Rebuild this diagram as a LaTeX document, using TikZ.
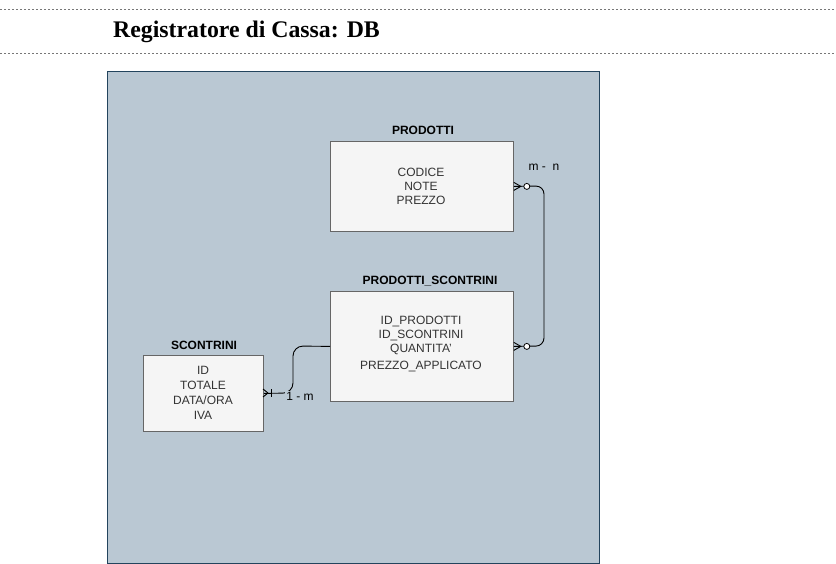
\documentclass[tikz,border=0pt]{standalone}
\usepackage{fontspec}
\setmainfont{Liberation Serif}
\setsansfont{Liberation Sans}
\begin{document}
\begin{tikzpicture}[x=1pt,y=-1pt,
  box/.style={draw=boxline, fill=boxfill, line width=0.8pt, inner sep=0pt, anchor=north west},
  boxtext/.style={font=\sffamily\fontsize{12}{14}\selectfont, text=boxtxt, align=center, inner sep=0pt},
  boxtitle/.style={font=\sffamily\bfseries\fontsize{12}{14}\selectfont, inner sep=0pt},
  rel/.style={font=\sffamily\fontsize{12}{14}\selectfont, inner sep=0pt},
  conn/.style={draw=black, line width=0.9pt},
  sep/.style={draw=sepgray, line width=1pt, dash pattern=on 2pt off 2pt}]
\definecolor{bgblue}{HTML}{BAC8D3}
\definecolor{bgline}{HTML}{23445D}
\definecolor{boxfill}{HTML}{F5F5F5}
\definecolor{boxline}{HTML}{666666}
\definecolor{boxtxt}{HTML}{333333}
\definecolor{sepgray}{HTML}{777777}
\useasboundingbox (0,0) rectangle (836,564);
% header
\coordinate (t1) at (0,10);
\coordinate (t2) at (836,10);
\coordinate (b1) at (0,54);
\coordinate (b2) at (836,54);
\draw[sep] (t1) -- (t2);
\draw[sep] (b1) -- (b2);
\node[font=\rmfamily\bfseries\fontsize{23.8}{26}\selectfont, anchor=west, inner sep=0pt] (title) at (113,32) {Registratore di Cassa: DB};
% background
\node[draw=bgline, fill=bgblue, line width=0.8pt, minimum width=492pt, minimum height=492pt, anchor=north west, inner sep=0pt] (bg) at (107,71) {};
% boxes
\node[box, minimum width=183pt, minimum height=90pt] (P) at (330,141) {};
\node[boxtitle] (Pt) at (423,130) {PRODOTTI};
\node[boxtext] (Ptx) at (421,186) {CODICE\\NOTE\\PREZZO};

\node[box, minimum width=183pt, minimum height=110pt] (PS) at (330,291) {};
\node[boxtitle] (PSt) at (430,281) {PRODOTTI\_SCONTRINI};
\node[boxtext] (PStx) at (421,335) {ID\_PRODOTTI\\ID\_SCONTRINI\\QUANTITA'};
\node[boxtext] (PStx2) at (421,367) {PREZZO\_APPLICATO};

\node[box, minimum width=120pt, minimum height=76pt] (S) at (143,355) {};
\node[boxtitle] (St) at (204,345) {SCONTRINI};
\node[boxtext, font=\sffamily\fontsize{12}{15}\selectfont] (Stx) at (203,392.5) {ID\\TOTALE\\DATA/ORA\\IVA};

% connector P - PS
\coordinate (c1) at ([xshift=7pt]P.east);
\coordinate (c2) at ([xshift=7pt]PS.east);
\draw[conn, rounded corners=8pt] (P.east) -- (544,186) -- (544,346) -- (PS.east);
\draw[conn] (c1) -- ([yshift=-4pt]P.east) (c1) -- ([yshift=4pt]P.east);
\draw[conn] (c2) -- ([yshift=-4pt]PS.east) (c2) -- ([yshift=4pt]PS.east);
\draw[conn, fill=white, line width=0.8pt] ([xshift=13pt]P.east) circle (3pt);
\draw[conn, fill=white, line width=0.8pt] ([xshift=13pt]PS.east) circle (3pt);
\node[rel] (mn) at (544,167) {m -\ \ n};

% connector S - PS
\coordinate (s1) at (268,393);
\draw[conn, rounded corners=10pt] (S.east) -- (293,393) -- (293,346) -- (PS.west);
\draw[conn] (s1) -- (263,389) (s1) -- (263,397);
\draw[conn] (271,389) -- (271,397);
\node[rel, fill=bgblue, inner sep=1pt] (om) at (300,396) {1 - m};
\end{tikzpicture}
\end{document}
